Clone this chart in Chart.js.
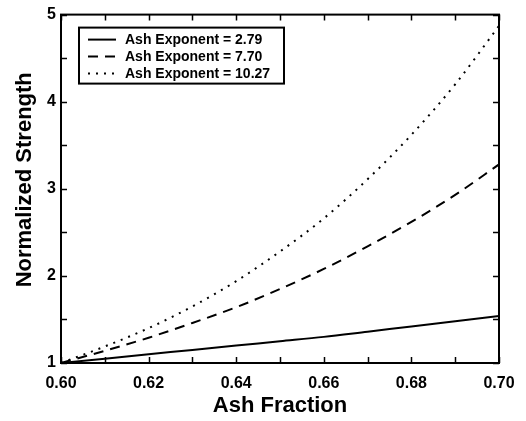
<!DOCTYPE html>
<html>
<head>
<meta charset="utf-8">
<script src="https://cdn.jsdelivr.net/npm/chart.js@4"></script>
<style>
  html, body { margin: 0; padding: 0; background: #fff; }
  #wrap { width: 526px; height: 421px; }
</style>
</head>
<body>
<div id="wrap"><canvas id="ash-chart" width="526" height="421"></canvas></div>
<script>
// values
const ashFraction = [0.60, 0.61, 0.62, 0.63, 0.64, 0.65, 0.66, 0.67, 0.68, 0.69, 0.70];
const strength279 = [1.00, 1.05, 1.10, 1.15, 1.20, 1.25, 1.30, 1.36, 1.42, 1.48, 1.54];
const strength770 = [1.00, 1.14, 1.29, 1.46, 1.64, 1.85, 2.08, 2.34, 2.62, 2.93, 3.28];
const strength1027 = [1.00, 1.19, 1.40, 1.65, 1.94, 2.28, 2.66, 3.11, 3.62, 4.20, 4.87];
const seriesLabels = ['Ash Exponent = 2.79', 'Ash Exponent = 7.70', 'Ash Exponent = 10.27'];
const xMinorTicks = [0.60, 0.61, 0.62, 0.63, 0.64, 0.65, 0.66, 0.67, 0.68, 0.69, 0.70];
const yMinorTicks = [1, 1.5, 2, 2.5, 3, 3.5, 4, 4.5, 5];
const yTitle = 'Normalized Strength';

const FONT = "'Liberation Sans', Arial, Helvetica, sans-serif";

function toPoints(ys) {
  return ashFraction.map((x, i) => ({ x: x, y: ys[i] }));
}

// frame, inward ticks on all four sides, boxed legend, y title
const framePlugin = {
  id: 'frame',
  afterDraw(chart) {
    const ctx = chart.ctx;
    const a = chart.chartArea;
    const xs = chart.scales.x;
    const ys = chart.scales.y;
    const tick = 6;
    ctx.save();
    ctx.strokeStyle = '#000';
    ctx.lineWidth = 1.5;
    xMinorTicks.forEach(v => {
      const px = Math.round(xs.getPixelForValue(v)) + 0.5;
      ctx.beginPath();
      ctx.moveTo(px, a.bottom); ctx.lineTo(px, a.bottom - tick);
      ctx.moveTo(px, a.top); ctx.lineTo(px, a.top + tick);
      ctx.stroke();
    });
    yMinorTicks.forEach(v => {
      const py = Math.round(ys.getPixelForValue(v)) + 0.5;
      ctx.beginPath();
      ctx.moveTo(a.left, py); ctx.lineTo(a.left + tick, py);
      ctx.moveTo(a.right, py); ctx.lineTo(a.right - tick, py);
      ctx.stroke();
    });
    ctx.lineWidth = 2;
    ctx.strokeRect(a.left, a.top, a.right - a.left, a.bottom - a.top);

    // legend
    const bx = a.left + 18, by = a.top + 13, bw = 205, bh = 56;
    ctx.fillStyle = '#fff';
    ctx.fillRect(bx, by, bw, bh);
    ctx.lineWidth = 2;
    ctx.strokeRect(bx, by, bw, bh);
    ctx.font = 'bold 14px ' + FONT;
    ctx.textBaseline = 'middle';
    ctx.fillStyle = '#000';
    chart.data.datasets.forEach((ds, i) => {
      const ry = by + 12 + i * 17;
      ctx.beginPath();
      ctx.setLineDash(ds.borderDash || []);
      ctx.lineWidth = ds.borderWidth;
      ctx.lineCap = ds.borderCapStyle || 'butt';
      ctx.moveTo(bx + 9, ry); ctx.lineTo(bx + 37, ry);
      ctx.stroke();
      ctx.setLineDash([]);
      ctx.fillText(ds.label, bx + 46, ry + 1);
    });

    // y axis title (sits a little above the plot's centre in the reference)
    ctx.translate(25, (a.top + a.bottom) / 2 - 9);
    ctx.rotate(-Math.PI / 2);
    ctx.font = 'bold 22px ' + FONT;
    ctx.textAlign = 'center';
    ctx.textBaseline = 'middle';
    ctx.fillText(yTitle, 0, 0);
    ctx.restore();
  }
};

const ctx = document.getElementById('ash-chart').getContext('2d');

new Chart(ctx, {
  type: 'line',
  data: {
    datasets: [{
      label: seriesLabels[0],
      data: toPoints(strength279),
      borderColor: '#000',
      borderWidth: 2,
      pointRadius: 0,
      cubicInterpolationMode: 'monotone'
    }, {
      label: seriesLabels[1],
      data: toPoints(strength770),
      borderColor: '#000',
      borderWidth: 2,
      borderDash: [10, 7],
      pointRadius: 0,
      cubicInterpolationMode: 'monotone'
    }, {
      label: seriesLabels[2],
      data: toPoints(strength1027),
      borderColor: '#000',
      borderWidth: 2,
      borderDash: [2, 6],
      pointRadius: 0,
      cubicInterpolationMode: 'monotone'
    }]
  },
  options: {
    responsive: false,
    animation: false,
    layout: {
      padding: { top: 14, right: 27, bottom: 0, left: 0 }
    },
    scales: {
      x: {
        type: 'linear',
        min: 0.6,
        max: 0.7,
        grid: { display: false, drawTicks: false },
        border: { display: false },
        ticks: {
          stepSize: 0.02,
          padding: 11,
          color: '#000',
          font: { family: FONT, size: 16, weight: 'bold' },
          maxRotation: 0,
          callback: v => v.toFixed(2)
        },
        title: {
          display: true,
          text: 'Ash Fraction',
          color: '#000',
          font: { family: FONT, size: 22, weight: 'bold' },
          padding: { top: 0, bottom: 2 }
        },
        afterFit(scale) { scale.height = 58; }
      },
      y: {
        min: 1,
        max: 5,
        grid: { display: false, drawTicks: false },
        border: { display: false },
        ticks: {
          stepSize: 1,
          padding: 5,
          color: '#000',
          font: { family: FONT, size: 16, weight: 'bold' }
        },
        afterFit(scale) { scale.width = 61; }
      }
    },
    plugins: {
      legend: { display: false },
      tooltip: { enabled: false }
    }
  },
  plugins: [framePlugin]
});
</script>
</body>
</html>
